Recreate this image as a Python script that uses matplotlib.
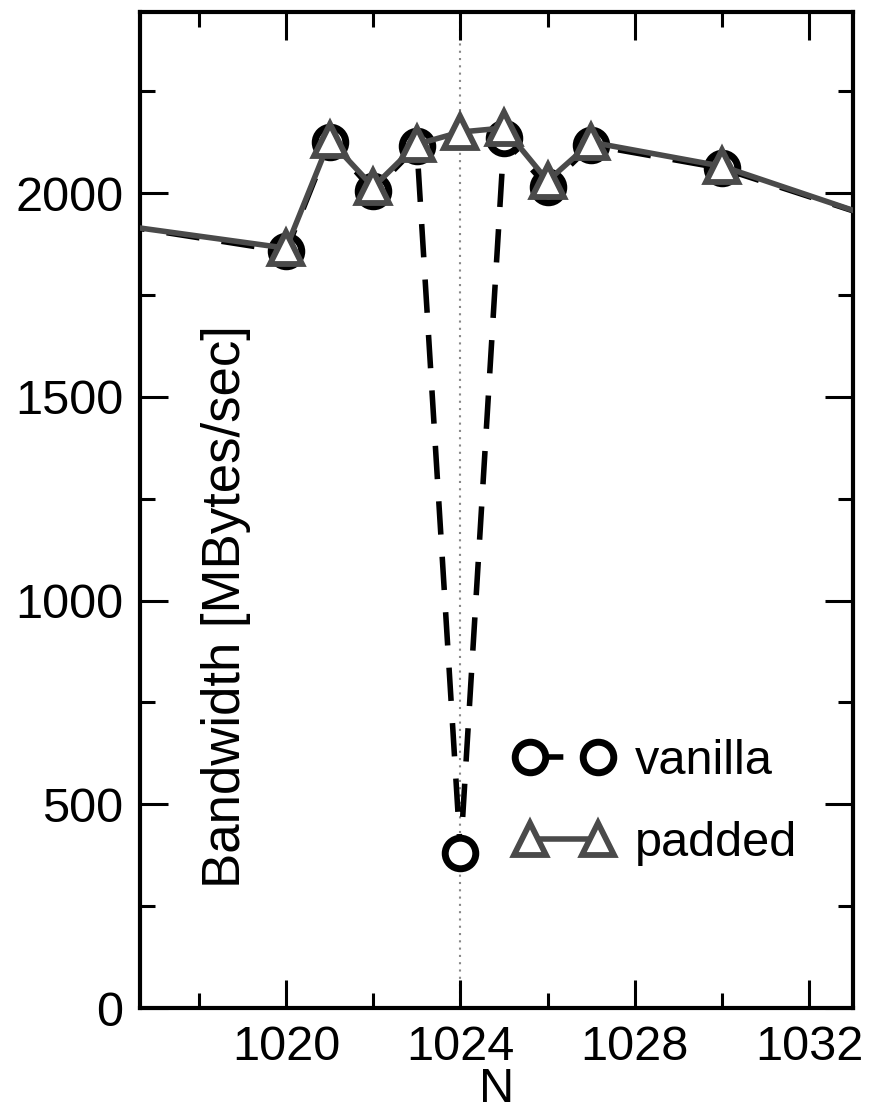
import numpy as np
import matplotlib.pyplot as plt
from matplotlib.ticker import MultipleLocator

plt.rcParams['font.family'] = ['Liberation Sans', 'DejaVu Sans']

# data
n_vals = [1016, 1020, 1021, 1022, 1023, 1024, 1025, 1026, 1027, 1030, 1034]
vanilla = [1924, 1857, 2125, 2005, 2115, 380, 2135, 2015, 2118, 2061, 1922]
padded = [1924, 1865, 2130, 2015, 2120, 2150, 2160, 2030, 2125, 2066, 1922]

gray = '#4a4a4a'

fig = plt.figure(figsize=(8.81, 11.13), dpi=100)
ax = fig.add_axes([0.159, 0.0943, 0.809, 0.8947])

ax.axvline(1024, color='#888888', lw=1.5, ls=(0, (1, 2.5)), zorder=1)

ax.plot(n_vals, vanilla, color='black', lw=4, dashes=(6, 4),
        marker='o', ms=22, mew=5, mfc='white', mec='black',
        label='vanilla', zorder=2)
ax.plot(n_vals, padded, color=gray, lw=4,
        marker='^', ms=23, mew=4.2, mfc='white', mec=gray,
        label='padded', zorder=3)

ax.set_xlim(1016.65, 1033.0)
ax.set_ylim(0, 2444)
ax.xaxis.set_major_locator(MultipleLocator(4))
ax.xaxis.set_minor_locator(MultipleLocator(2))
ax.yaxis.set_major_locator(MultipleLocator(500))
ax.yaxis.set_minor_locator(MultipleLocator(250))
ax.tick_params(which='both', direction='in', top=True, right=True,
               width=2.2, labelsize=35, pad=12)
ax.tick_params(which='major', length=20)
ax.tick_params(which='minor', length=11)
for s in ax.spines.values():
    s.set_linewidth(3)

ax.set_xlabel('N', fontsize=35, labelpad=-2)
ax.text(0.121, 0.403, 'Bandwidth [MBytes/sec]', transform=ax.transAxes,
        rotation=90, fontsize=38, ha='center', va='center')

ax.legend(loc='upper left', bbox_to_anchor=(0.527, 0.27), frameon=False,
          fontsize=35, numpoints=2, handlelength=2.0, handletextpad=0.45,
          labelspacing=0.75, borderpad=0, borderaxespad=0)

fig.savefig('out.png', dpi=100)
